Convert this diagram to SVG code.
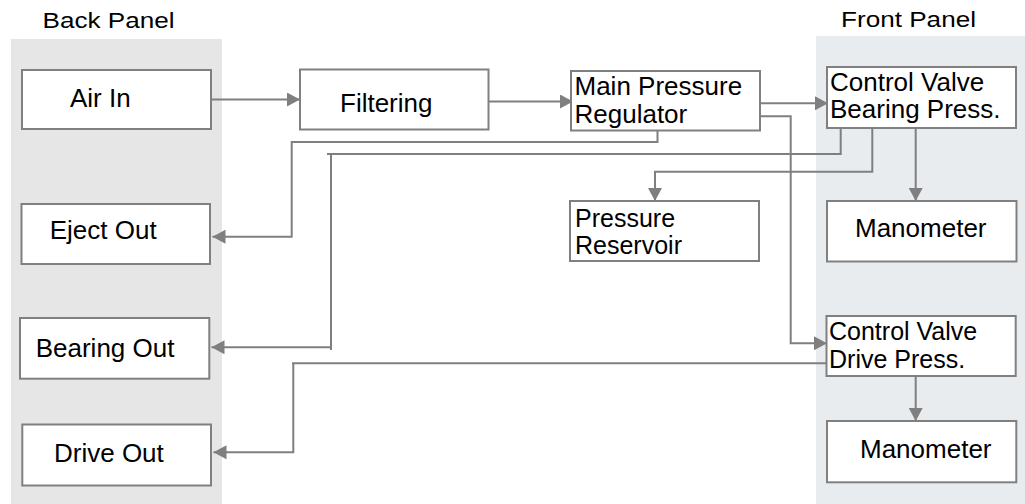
<svg xmlns="http://www.w3.org/2000/svg" width="1025" height="504" viewBox="0 0 1025 504">
<style>
.node rect{fill:#ffffff;stroke:#808080;stroke-width:2}
text{font-family:"Liberation Sans",Arial,Helvetica,sans-serif;fill:#000000}
.t{font-size:26px}
.t2{font-size:25px}
.title{font-size:22px}
.c path{fill:none;stroke:#7f7f7f;stroke-width:2}
</style>
<defs>
<marker id="ah" markerUnits="userSpaceOnUse" markerWidth="14" markerHeight="14" refX="13" refY="7" orient="auto">
<path d="M0,0 L13,7 L0,14 z" fill="#7f7f7f"/>
</marker>
</defs>
<rect id="back-panel" x="11" y="39" width="211" height="465" fill="#e6e6e6"/>
<rect id="front-panel" x="816" y="36" width="209" height="468" fill="#e9ecef"/>
<text class="title" x="42.5" y="28.3" textLength="132" lengthAdjust="spacingAndGlyphs">Back Panel</text>
<text class="title" x="841" y="26.7" textLength="135" lengthAdjust="spacingAndGlyphs">Front Panel</text>
<g class="c" id="connectors">
<path d="M211,99.5 H300" marker-end="url(#ah)"/>
<path d="M488,101.5 H573" marker-end="url(#ah)"/>
<path d="M760,103.3 H828" marker-end="url(#ah)"/>
<path d="M760,116.3 H790.7 V343.3 H827" marker-end="url(#ah)"/>
<path d="M657.5,130.5 V142 H291.7 V236.7 H212.5" marker-end="url(#ah)"/>
<path d="M840.7,128 V154 H327"/>
<path d="M331,154 V350"/>
<path d="M331,347.3 H211.5" marker-end="url(#ah)"/>
<path d="M872.3,128 V171.7 H655 V201" marker-end="url(#ah)"/>
<path d="M915.7,128 V201" marker-end="url(#ah)"/>
<path d="M826,363.3 H292"/>
<path d="M293.3,363.3 V452.3 H213.5" marker-end="url(#ah)"/>
<path d="M915.7,376 V421" marker-end="url(#ah)"/>
</g>
<g class="node" id="air-in"><rect x="22" y="70" width="189" height="59"/><text class="t" x="70" y="107">Air In</text></g>
<g class="node" id="filtering"><rect x="300" y="69.5" width="188.5" height="60"/><text class="t" x="340" y="112">Filtering</text></g>
<g class="node" id="main-pressure-regulator"><rect x="571" y="71" width="189" height="59.5"/><text class="t" x="574.5" y="95">Main Pressure</text><text class="t" x="574.5" y="123.3">Regulator</text></g>
<g class="node" id="control-valve-bearing"><rect x="827" y="67" width="189" height="61"/><text class="t" x="830" y="90.7">Control Valve</text><text class="t" x="830" y="118.3">Bearing Press.</text></g>
<g class="node" id="eject-out"><rect x="21.5" y="204" width="188.5" height="60"/><text class="t" x="49.7" y="239.3">Eject Out</text></g>
<g class="node" id="pressure-reservoir"><rect x="570" y="201" width="189" height="60"/><text class="t2" x="575" y="226.5">Pressure</text><text class="t2" x="575" y="254">Reservoir</text></g>
<g class="node" id="manometer-bearing"><rect x="827" y="201" width="189.5" height="60.5"/><text class="t" x="855" y="236.7">Manometer</text></g>
<g class="node" id="bearing-out"><rect x="20" y="318" width="189.3" height="60.7"/><text class="t" x="35.7" y="356.7">Bearing Out</text></g>
<g class="node" id="control-valve-drive"><rect x="826.5" y="316" width="189.2" height="60"/><text class="t2" x="829" y="340">Control Valve</text><text class="t2" x="829" y="367.5">Drive Press.</text></g>
<g class="node" id="drive-out"><rect x="22.3" y="424.5" width="188.7" height="61"/><text class="t" x="54" y="461.7">Drive Out</text></g>
<g class="node" id="manometer-drive"><rect x="827" y="421" width="189.3" height="61.3"/><text class="t" x="860" y="458.3">Manometer</text></g>
</svg>
